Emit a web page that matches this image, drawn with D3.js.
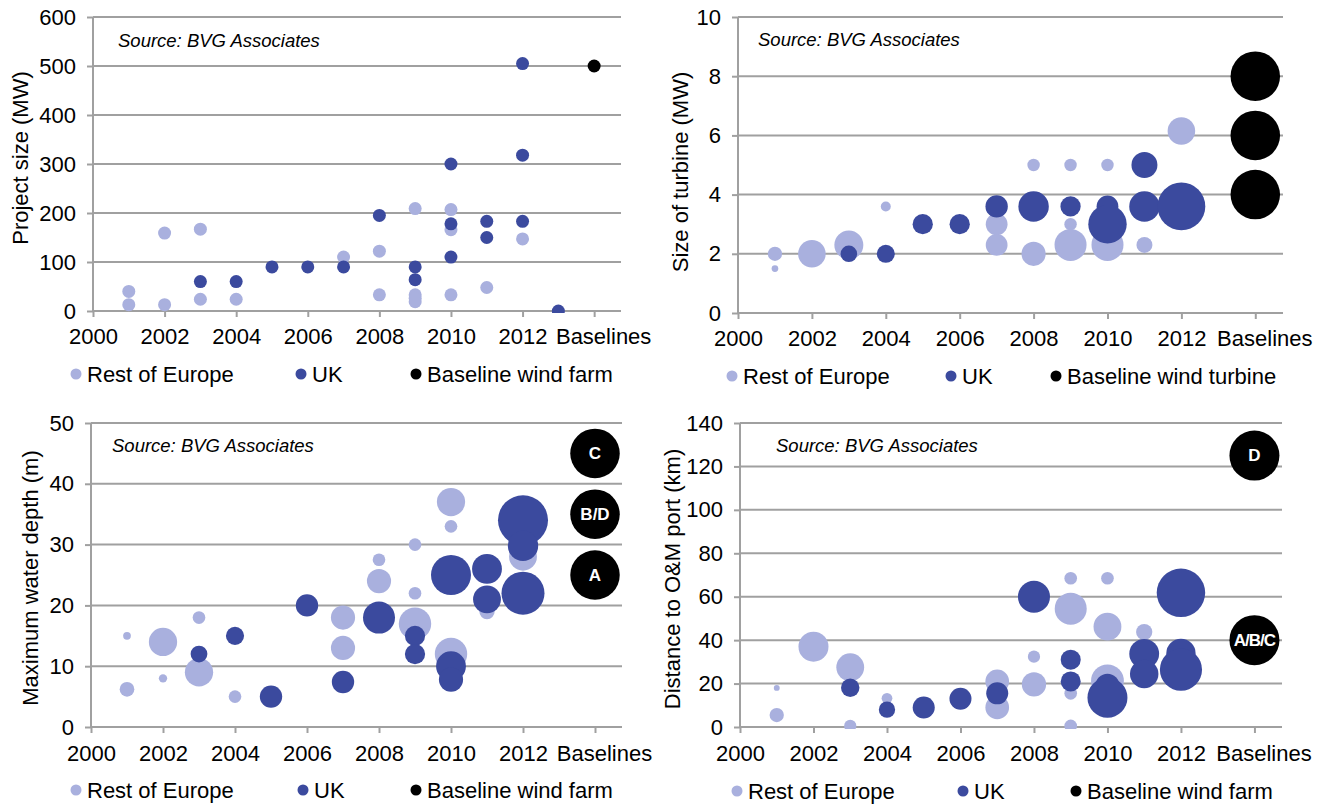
<!DOCTYPE html>
<html>
<head>
<meta charset="utf-8">
<script src="https://cdn.jsdelivr.net/npm/d3@7"></script>
<style>
  html, body { margin: 0; padding: 0; background: #fff; }
  svg { display: block; font-family: "Liberation Sans", Arial, sans-serif; }
</style>
</head>
<body>
<svg id="chart" width="1320" height="805"></svg>
<script>
// ---- Data -------------------------------------------------------------
// Shared x axis: commissioning year, with the baselines placed after 2012
const xTickValues = [2000, 2002, 2004, 2006, 2008, 2010, 2012, 2014];
const xTickLabels = ["2000", "2002", "2004", "2006", "2008", "2010", "2012", "Baselines"];
const seriesNames = ["Rest of Europe", "UK"];

// Project size (MW): [year, MW]
const capacityRoE = [[2001, 40], [2001, 13], [2002, 159], [2002, 13], [2003, 167], [2003, 24],
  [2004, 24], [2007, 110], [2008, 122], [2008, 33], [2009, 209], [2009, 33], [2009, 26], [2009, 19],
  [2010, 207], [2010, 166], [2010, 33], [2011, 48], [2012, 147]];
const capacityUK = [[2003, 60], [2004, 60], [2005, 90], [2006, 90], [2007, 90], [2008, 195],
  [2009, 90], [2009, 64], [2010, 300], [2010, 178], [2010, 110], [2011, 183], [2011, 150],
  [2012, 505], [2012, 318], [2012, 183], [2013, 0]];
const capacityBaseline = [[2014, 500]];

// Turbine rating (MW): [year, MW, project size MW]
const turbineRoE = [[2001, 2.0, 41], [2001, 1.5, 9], [2002, 2.0, 152], [2003, 2.3, 168], [2004, 3.6, 20],
  [2007, 3.0, 95], [2007, 2.3, 95], [2008, 5.0, 31], [2008, 2.0, 117], [2009, 5.0, 31], [2009, 3.0, 31],
  [2009, 2.3, 205], [2010, 5.0, 31], [2010, 2.3, 205], [2011, 2.3, 51], [2012, 6.15, 152]];
const turbineUK = [[2003, 2.0, 55], [2004, 2.0, 65], [2005, 3.0, 82], [2006, 3.0, 82], [2007, 3.6, 100],
  [2008, 3.6, 185], [2009, 3.6, 82], [2010, 3.6, 95], [2010, 3.0, 295], [2011, 5.0, 135],
  [2011, 3.6, 185], [2012, 3.6, 457]];
const turbineBaseline = [[2014, 8, 490], [2014, 6, 490], [2014, 4, 490]];

// Maximum water depth (m): [year, m, project size MW]
const depthRoE = [[2001, 15, 12], [2001, 6.2, 43], [2002, 14, 160], [2002, 8, 14], [2003, 18, 32],
  [2003, 9, 160], [2004, 5, 32], [2007, 18, 117], [2007, 13, 117], [2008, 27.5, 32], [2008, 24, 117],
  [2009, 30, 32], [2009, 22, 32], [2009, 17, 210], [2010, 37, 160], [2010, 33, 32], [2010, 12, 210],
  [2011, 19, 47], [2012, 28, 155]];
const depthUK = [[2003, 12, 56], [2004, 15, 66], [2005, 5, 100], [2006, 20, 100], [2007, 7.4, 100],
  [2008, 18, 205], [2009, 15, 82], [2009, 12, 82], [2010, 25, 320], [2010, 10, 178], [2010, 7.8, 117],
  [2011, 26, 178], [2011, 21, 155], [2012, 34, 500], [2012, 29.8, 185], [2012, 22, 370]];
const depthBaseline = [[2014, 45, 490, "C"], [2014, 35, 490, "B/D"], [2014, 25, 490, "A"]];

// Distance to O&M port (km): [year, km, project size MW]
const distanceRoE = [[2001, 18, 7], [2001, 5.5, 41], [2002, 37, 180], [2003, 27.5, 155], [2003, 0.5, 30],
  [2004, 13.2, 23], [2007, 21, 112], [2007, 9, 112], [2008, 32.4, 30], [2008, 19.6, 118], [2009, 68.5, 32],
  [2009, 54.5, 205], [2009, 15.5, 32], [2009, 0.5, 32], [2010, 68.5, 32], [2010, 46.2, 155],
  [2010, 21.2, 215], [2011, 43.7, 53]];
const distanceUK = [[2003, 18.1, 68], [2004, 8, 53], [2005, 9, 97], [2006, 13, 97], [2007, 15.5, 97],
  [2008, 60, 205], [2009, 31, 80], [2009, 21, 80], [2010, 19, 115], [2010, 13.5, 320], [2011, 33.7, 178],
  [2011, 24.4, 162], [2012, 61.8, 470], [2012, 33.9, 172], [2012, 26.4, 355]];
const distanceBaseline = [[2014, 125, 500, "D"], [2014, 40, 500, "A/B/C"]];

// ---- Layout & styles --------------------------------------------------
const colours = ["#a9b0de", "#3b4a9e", "#000000"];
const gridColour = "#a0a0a0";
const fontSize = 22;

const panels = [
  { left: 93, right: 621, top: 17, bottom: 311, yMax: 600, yStep: 100,
    title: "Project size (MW)", titleX: 20, titleY: 158,
    series: [capacityRoE, capacityUK, capacityBaseline], fixedRadius: 6.5,
    legendY: 374, legendX: [76, 301, 416], baselineName: "Baseline wind farm",
    sourceX: 118, sourceY: 40, tickPad: 11 },
  { left: 738, right: 1283, top: 17, bottom: 313, yMax: 10, yStep: 2,
    title: "Size of turbine (MW)", titleX: 680, titleY: 172,
    series: [turbineRoE, turbineUK, turbineBaseline],
    legendY: 376, legendX: [732, 951, 1056], baselineName: "Baseline wind turbine",
    sourceX: 758, sourceY: 39, tickPad: 11 },
  { left: 91, right: 622, top: 423, bottom: 727, yMax: 50, yStep: 10,
    title: "Maximum water depth (m)", titleX: 30, titleY: 578,
    series: [depthRoE, depthUK, depthBaseline],
    legendY: 790, legendX: [76, 303, 416], baselineName: "Baseline wind farm",
    sourceX: 112, sourceY: 445, tickPad: 12 },
  { left: 740, right: 1282, top: 423, bottom: 727, yMax: 140, yStep: 20,
    title: "Distance to O&M port (km)", titleX: 672, titleY: 579,
    series: [distanceRoE, distanceUK, distanceBaseline],
    legendY: 791, legendX: [737, 963, 1076], baselineName: "Baseline wind farm",
    sourceX: 776, sourceY: 445, tickPad: 12 }
];

const svg = d3.select("#chart");
const rScale = d3.scaleSqrt().domain([0, 500]).range([0, 25]);

panels.forEach((p, i) => {
  const g = svg.append("g");
  const x = d3.scaleLinear().domain([2000, 2014.75]).range([p.left, p.right]);
  const y = d3.scaleLinear().domain([0, p.yMax]).range([p.bottom, p.top]);
  const yTicks = d3.range(0, p.yMax + p.yStep / 2, p.yStep);

  // horizontal gridlines
  g.append("g").selectAll("line").data(yTicks).join("line")
    .attr("x1", p.left).attr("x2", p.right)
    .attr("y1", d => y(d)).attr("y2", d => y(d))
    .attr("stroke", gridColour).attr("stroke-width", 2);

  // y axis
  const yAxis = g.append("g").attr("transform", `translate(${p.left},0)`)
    .call(d3.axisLeft(y).tickValues(yTicks).tickSize(6).tickPadding(11).tickFormat(d3.format("d")));
  yAxis.select(".domain").attr("stroke", gridColour).attr("stroke-width", 2)
    .attr("d", `M0,${p.bottom}V${p.top}`);
  yAxis.selectAll(".tick line").attr("stroke", gridColour).attr("stroke-width", 2);
  yAxis.selectAll(".tick text").attr("font-size", fontSize).attr("fill", "#000")
    .attr("font-family", "Liberation Sans, Arial, sans-serif");

  // x axis
  const xAxis = g.append("g").attr("transform", `translate(0,${p.bottom})`)
    .call(d3.axisBottom(x).tickValues(xTickValues).tickSize(6).tickPadding(p.tickPad)
      .tickFormat((d, k) => xTickLabels[k]));
  xAxis.select(".domain").remove();
  xAxis.selectAll(".tick line").attr("stroke", gridColour).attr("stroke-width", 2);
  xAxis.selectAll(".tick text").attr("font-size", fontSize).attr("fill", "#000")
    .attr("font-family", "Liberation Sans, Arial, sans-serif")
    .attr("dx", (d, k) => k === xTickLabels.length - 1 ? 9 : 0);

  // bubbles, clipped at the category axis
  const clipId = "clip" + i;
  svg.append("clipPath").attr("id", clipId).append("rect")
    .attr("x", p.left).attr("y", p.top - 40)
    .attr("width", p.right - p.left + 20).attr("height", p.bottom - p.top + 42);
  const marks = g.append("g").attr("clip-path", `url(#${clipId})`);
  p.series.forEach((s, k) => {
    const sg = marks.append("g");
    sg.selectAll("circle").data(s).join("circle")
      .attr("cx", d => x(d[0])).attr("cy", d => y(d[1]))
      .attr("r", d => p.fixedRadius || rScale(d[2]))
      .attr("fill", colours[k]);
    sg.selectAll("text").data(s.filter(d => d[3])).join("text")
      .attr("x", d => x(d[0])).attr("y", d => y(d[1]))
      .attr("text-anchor", "middle").attr("dominant-baseline", "central")
      .attr("fill", "#fff").attr("font-weight", "bold").attr("font-size", 17)
      .attr("letter-spacing", d => d[3].length > 3 ? -1 : 0)
      .text(d => d[3]);
  });

  // source note
  g.append("text").attr("x", p.sourceX).attr("y", p.sourceY)
    .attr("dominant-baseline", "central").attr("font-style", "italic")
    .attr("font-size", 18.5).attr("fill", "#000").text("Source: BVG Associates");

  // y axis title
  g.append("text")
    .attr("transform", `translate(${p.titleX},${p.titleY}) rotate(-90)`)
    .attr("text-anchor", "middle").attr("dominant-baseline", "central")
    .attr("font-size", fontSize).attr("fill", "#000").text(p.title);

  // legend
  const names = [seriesNames[0], seriesNames[1], p.baselineName];
  const lg = g.append("g");
  names.forEach((n, k) => {
    lg.append("circle").attr("cx", p.legendX[k]).attr("cy", p.legendY)
      .attr("r", 5.5).attr("fill", colours[k]);
    lg.append("text").attr("x", p.legendX[k] + 11).attr("y", p.legendY)
      .attr("dominant-baseline", "central").attr("font-size", fontSize)
      .attr("fill", "#000").text(n);
  });
});
</script>
</body>
</html>
